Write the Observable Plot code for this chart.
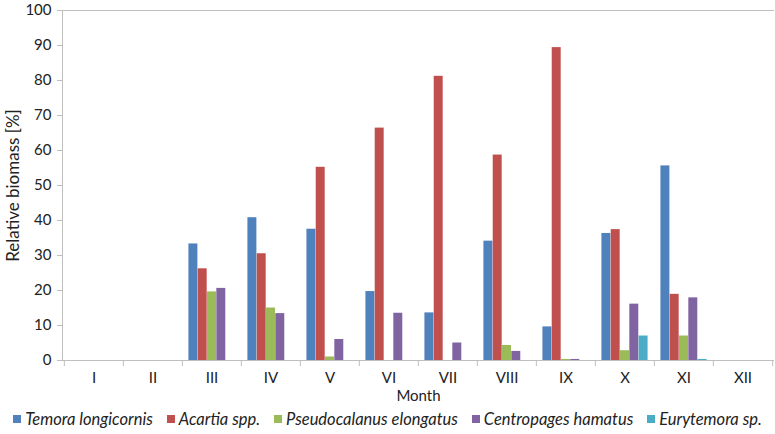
<!DOCTYPE html>
<html>
<head>
<meta charset="utf-8">
<script src="https://cdn.jsdelivr.net/npm/d3@7"></script>
<script src="https://cdn.jsdelivr.net/npm/@observablehq/plot@0.6"></script>
<style>
  html, body { margin: 0; padding: 0; background: #fff; }
  body { width: 775px; height: 434px; overflow: hidden; font-family: Lato, "Open Sans", sans-serif; color: #222; }
  #chart svg g[aria-label="y-axis label"] text { font-size: 17px; }
  #chart svg g[aria-label="x-axis label"] text { font-size: 15px; }
  #legend { display: flex; justify-content: center; gap: 14px; font-size: 16.5px; font-style: italic; margin-top: 3px; }
  #legend .item { display: flex; align-items: center; gap: 4px; }
  #legend .sw { width: 8px; height: 8px; display: inline-block; }
</style>
</head>
<body>
<div id="chart"></div>
<div id="legend"></div>
<script>
const months = ["I","II","III","IV","V","VI","VII","VIII","IX","X","XI","XII"];
const species = ["Temora longicornis","Acartia spp.","Pseudocalanus elongatus","Centropages hamatus","Eurytemora sp."];
const colors = ["#4F81BD","#C0504D","#9BBB59","#8064A2","#4BACC6"];
const temora       = [0, 0, 33.3, 40.8, 37.5, 19.7, 13.6, 34.1,  9.6, 36.3, 55.6, 0];
const acartia      = [0, 0, 26.2, 30.5, 55.2, 66.4, 81.2, 58.7, 89.4, 37.4, 18.9, 0];
const pseudocal    = [0, 0, 19.6, 15.0,  1.0,  0,    0,    4.3,  0.3,  2.8,  7.0, 0];
const centropages  = [0, 0, 20.6, 13.4,  6.0, 13.5,  5.0,  2.6,  0.3, 16.1, 17.9, 0];
const eurytemora   = [0, 0,  0,    0,    0,    0,    0,    0,    0,    7.0,  0.3, 0];
const yTicks = [0,10,20,30,40,50,60,70,80,90,100];

const series = [temora, acartia, pseudocal, centropages, eurytemora];
const data = [];
series.forEach((vals, si) => vals.forEach((v, mi) => data.push({month: months[mi], species: species[si], value: v})));

const W = 775, H = 406, mL = 62, mR = 1, mT = 10, mB = 46;
const step = (W - mL - mR) / months.length;
const barW = 9.3;
const pad = (step - barW * species.length) / 2;
const grey = "#BFBFBF";

const chart = Plot.plot({
  width: W, height: H,
  marginLeft: mL, marginRight: mR, marginTop: mT, marginBottom: mB,
  style: {fontFamily: "Lato, 'Open Sans', sans-serif", fontSize: "15px", color: "#222", background: "#fff", overflow: "visible"},
  x: {domain: months, padding: 0},
  y: {domain: [0, 100]},
  marks: [
    ...species.map((s, i) => Plot.barY(data.filter(d => d.species === s), {
      x: "month", y: "value", fill: colors[i],
      insetLeft: pad + i * barW, insetRight: pad + (species.length - 1 - i) * barW
    })),
    Plot.ruleY([0, 100], {stroke: grey}),
    Plot.frame({anchor: "left", stroke: grey}),
    Plot.axisY(yTicks, {tickSize: 5, stroke: grey, fill: "#222", tickPadding: 6, label: "Relative biomass [%]", labelAnchor: "center", labelOffset: 56, labelArrow: "none", fontSize: 15}),
    Plot.axisX({tickSize: 6, fill: "none", stroke: grey, dx: -step / 2, label: null}),
    Plot.axisX(["XII"], {tickSize: 6, fill: "none", stroke: grey, dx: step / 2, label: null}),
    Plot.axisX({tickSize: 0, tickPadding: 12, fill: "#222", label: "Month", labelAnchor: "center", labelOffset: 40, labelArrow: "none", fontSize: 15})
  ]
});
document.getElementById("chart").appendChild(chart);

const legend = document.getElementById("legend");
species.forEach((s, i) => {
  const item = document.createElement("span");
  item.className = "item";
  item.innerHTML = `<span class="sw" style="background:${colors[i]}"></span><span>${s}</span>`;
  legend.appendChild(item);
});
</script>
</body>
</html>
